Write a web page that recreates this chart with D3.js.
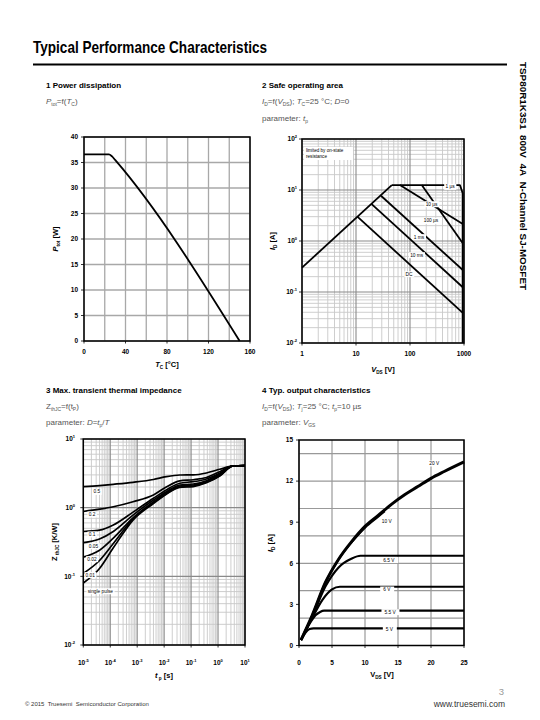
<!DOCTYPE html>
<html><head><meta charset="utf-8">
<script src="https://cdn.jsdelivr.net/npm/d3@7"></script>
<style>
body{margin:0;background:#fff;}
svg{display:block;}
text{font-family:"Liberation Sans",Arial,sans-serif;}
</style></head><body>
<svg id="page" width="540" height="720"></svg>
<script>
// ---------------- DATA ----------------
// 1 Power dissipation
const pdTemp  = [0, 24, 27, 30, 150];
const pdPower = [36.6, 36.6, 36.2, 35.5, 0];
const pdXLabels = [0, 40, 80, 120, 160];
const pdYLabels = [0, 5, 10, 15, 20, 25, 30, 35, 40];

// 2 Safe operating area
const soaRdsV   = [1, 46];          const soaRdsI   = [0.3, 12.5];
const soa1usV   = [46, 840, 950, 950]; const soa1usI = [12.5, 12.5, 8.6, 0.01];
const soa10usV  = [65, 950];        const soa10usI  = [12.5, 2.15];
const soa100usV = [165, 950];       const soa100usI = [12.5, 0.9];
const soa1msV   = [29, 950];        const soa1msI   = [7.7, 0.27];
const soa10msV  = [19.5, 950];      const soa10msI  = [5.3, 0.124];
const soaDcV    = [10.6, 950];      const soaDcI    = [3.0, 0.039];
const soaLabels = ["1 µs", "10 µs", "100 µs", "1 ms", "10 ms", "DC"];
const soaLabelV = [550, 251, 245, 147, 133, 96];
const soaLabelI = [11.6, 5.3, 2.5, 1.2, 0.53, 0.225];
const soaXLabels = ["1", "10", "100", "1000"];
const soaYExp = [2, 1, 0, -1, -2];

// 3 Transient thermal impedance
const zthT      = [1e-5, 4e-5, 1.3e-4, 7e-4, 4e-3, 1.2e-2, 3.8e-2, 0.12, 0.37, 1.15, 3.6, 10];
const zthD05    = [2.02, 2.1, 2.19, 2.34, 2.57, 2.83, 2.99, 3.0, 3.2, 3.62, 4.05, 4.1];
const zthD02    = [0.88, 0.95, 1.03, 1.22, 1.53, 2.0, 2.45, 2.55, 2.75, 3.34, 4.05, 4.1];
const zthD01    = [0.45, 0.47, 0.56, 0.86, 1.37, 1.81, 2.27, 2.39, 2.62, 3.17, 4.05, 4.1];
const zthD005   = [0.31, 0.35, 0.45, 0.78, 1.29, 1.71, 2.14, 2.21, 2.47, 3.09, 4.05, 4.1];
const zthD002   = [0.19, 0.24, 0.36, 0.71, 1.22, 1.65, 2.07, 2.14, 2.39, 2.99, 4.05, 4.1];
const zthD001   = [0.11, 0.17, 0.30, 0.69, 1.18, 1.6, 2.0, 2.07, 2.34, 2.92, 4.05, 4.1];
const zthSingle = [0.08, 0.13, 0.26, 0.66, 1.15, 1.57, 1.97, 2.03, 2.3, 2.88, 4.05, 4.1];
const zthLabels = ["0.5", "0.2", "0.1", "0.05", "0.02", "0.01", "single pulse"];
const zthLabelT = [3.2e-5, 2.1e-5, 2.1e-5, 2.4e-5, 2.1e-5, 1.8e-5, 4.3e-5];
const zthLabelZ = [1.71, 0.80, 0.41, 0.277, 0.179, 0.105, 0.061];
const zthXExp = [-5, -4, -3, -2, -1, 0, 1];
const zthYExp = [1, 0, -1, -2];

// 4 Output characteristics
const ocV20  = [0.3, 2, 4, 6, 8, 10, 12, 14, 16, 18, 20, 22, 25];
const ocI20  = [0.4, 2.2, 4.6, 6.3, 7.6, 8.7, 9.5, 10.3, 11.0, 11.6, 12.2, 12.7, 13.4];
const ocV10  = [0.3, 2, 4, 6, 8, 10, 12, 13];
const ocI10  = [0.4, 2.2, 4.6, 6.3, 7.55, 8.6, 9.4, 9.8];
const ocV65  = [0.3, 2, 4, 6, 8, 9.3, 25];
const ocI65  = [0.4, 2.1, 4.3, 5.7, 6.35, 6.55, 6.55];
const ocV6   = [0.3, 2, 3.5, 5, 6.2, 25];
const ocI6   = [0.4, 2.0, 3.3, 4.1, 4.29, 4.29];
const ocV55  = [0.3, 1.5, 2.5, 3.2, 3.8, 25];
const ocI55  = [0.4, 1.5, 2.2, 2.45, 2.54, 2.54];
const ocV5   = [0.3, 1, 1.6, 2.2, 25];
const ocI5   = [0.4, 0.95, 1.2, 1.25, 1.25];
const ocLabels = ["20 V", "10 V", "6.5 V", "6 V", "5.5 V", "5 V"];
const ocLabelV = [20.5, 13.3, 13.6, 13.3, 13.8, 13.7];
const ocLabelI = [13.3, 9.1, 6.25, 4.1, 2.45, 1.15];
const ocXLabels = [0, 5, 10, 15, 20, 25];
const ocYLabels = [0, 3, 6, 9, 12, 15];

// ---------------- HELPERS ----------------
const svg = d3.select("#page");
svg.append("rect").attr("width", 540).attr("height", 720).attr("fill", "#fff");

function rich(parent, x, y, parts, o = {}) {
  const size = o.size || 8;
  const t = parent.append("text").attr("x", x).attr("y", y)
    .attr("font-size", size).attr("font-weight", o.weight || "normal")
    .attr("fill", o.fill || "#000").attr("text-anchor", o.anchor || "start");
  if (o.family) t.attr("font-family", o.family);
  if (o.rotate) t.attr("transform", `rotate(${o.rotate},${x},${y})`);
  let shift = 0;
  parts.forEach(p => {
    const s = typeof p === "string" ? { t: p } : p;
    const ts = t.append("tspan").text(s.t);
    let target = 0, fs = size;
    if (s.sub) { target = size * 0.3; fs = size * 0.62; }
    if (s.sup) { target = -size * 0.45; fs = size * 0.62; }
    ts.attr("dy", target - shift).attr("font-size", fs);
    shift = target;
    if (s.it) ts.attr("font-style", "italic");
  });
  return t;
}

function frame(g, x, y) {
  const [x0, x1] = x.range(), [y0, y1] = y.range();
  g.append("rect").attr("x", x0).attr("y", y1).attr("width", x1 - x0).attr("height", y0 - y1)
    .attr("fill", "none").attr("stroke", "#000").attr("stroke-width", 1.5);
}
function vline(g, x, y, v, color, w) {
  g.append("line").attr("x1", x(v)).attr("x2", x(v)).attr("y1", y.range()[0]).attr("y2", y.range()[1])
    .attr("stroke", color).attr("stroke-width", w);
}
function hline(g, x, y, v, color, w) {
  g.append("line").attr("y1", y(v)).attr("y2", y(v)).attr("x1", x.range()[0]).attr("x2", x.range()[1])
    .attr("stroke", color).attr("stroke-width", w);
}
function logGrid(g, x, y, logX, logY) {
  const isPow = v => Math.abs(Math.log10(v) - Math.round(Math.log10(v))) < 1e-6;
  const xt = x.ticks(), yt = y.ticks();
  if (logX) xt.filter(v => !isPow(v)).forEach(v => vline(g, x, y, v, "#c8c8c8", 0.9));
  if (logY) yt.filter(v => !isPow(v)).forEach(v => hline(g, x, y, v, "#c8c8c8", 0.9));
  if (logX) xt.filter(isPow).forEach(v => vline(g, x, y, v, "#8a8a8a", 1.1));
  if (logY) yt.filter(isPow).forEach(v => hline(g, x, y, v, "#8a8a8a", 1.1));
}
function yTick(g, x, py) {
  const x0 = x.range()[0];
  g.append("line").attr("x1", x0 - 3).attr("x2", x0).attr("y1", py).attr("y2", py)
    .attr("stroke", "#000").attr("stroke-width", 0.8);
}
function xTick(g, y, px) {
  const y0 = y.range()[0];
  g.append("line").attr("x1", px).attr("x2", px).attr("y1", y0).attr("y2", y0 + 2.5)
    .attr("stroke", "#000").attr("stroke-width", 0.8);
}
function pow10Label(g, px, py, e, anchor) {
  rich(g, px, py, ["10", { t: String(e), sup: true }], { size: 6.5, weight: "bold", anchor: anchor });
}
function zip(a, b) { return a.map((v, i) => [v, b[i]]); }
function curve(g, x, y, xs, ys, w, interp) {
  const line = d3.line().x(d => x(d[0])).y(d => y(d[1])).curve(interp || d3.curveLinear);
  g.append("path").attr("d", line(zip(xs, ys))).attr("fill", "none")
    .attr("stroke", "#000").attr("stroke-width", w).attr("stroke-linejoin", "round");
}
function boxLabel(g, px, py, txt, size, pad) {
  const t = g.append("text").attr("x", px).attr("y", py + size * 0.35).attr("font-size", size)
    .attr("text-anchor", "middle").attr("fill", "#000").text(txt);
  const bb = t.node().getBBox();
  g.insert("rect", () => t.node()).attr("x", bb.x - pad).attr("y", bb.y - 0.5)
    .attr("width", bb.width + 2 * pad).attr("height", bb.height + 1).attr("fill", "#fff");
}

// ---------------- PAGE ----------------
svg.append("text").attr("x", 33).attr("y", 53).attr("font-family", "Lato, 'Open Sans', sans-serif")
  .attr("font-weight", 900).attr("font-size", 16.5).attr("textLength", 234)
  .attr("lengthAdjust", "spacingAndGlyphs").text("Typical Performance Characteristics");
svg.append("line").attr("x1", 33).attr("x2", 507).attr("y1", 64.5).attr("y2", 64.5)
  .attr("stroke", "#000").attr("stroke-width", 2);

svg.append("text").attr("x", 520).attr("y", 62).attr("transform", "rotate(90,520,62)")
  .attr("font-size", 9).attr("font-weight", "bold").attr("textLength", 228)
  .attr("lengthAdjust", "spacingAndGlyphs")
  .text("TSP80R1K3S1\u00A0\u00A0800V\u00A0\u00A04A\u00A0\u00A0N-Channel SJ-MOSFET");

svg.append("text").attr("x", 25).attr("y", 706).attr("font-size", 6).attr("fill", "#333")
  .attr("font-family", "Lato, sans-serif").text("© 2015\u00A0 Truesemi\u00A0 Semiconductor Corporation");
svg.append("text").attr("x", 505).attr("y", 707).attr("font-size", 8.5).attr("fill", "#333")
  .attr("text-anchor", "end").attr("font-family", "Lato, sans-serif").text("www.truesemi.com");
svg.append("text").attr("x", 504).attr("y", 695).attr("font-size", 9.5).attr("fill", "#999")
  .attr("text-anchor", "end").attr("font-family", "Lato, sans-serif").text("3");

const gray = "#555";

// ===== Chart 1 =====
{
  const g = svg.append("g");
  rich(g, 46, 88, ["1 Power dissipation"], { size: 8, weight: "bold" });
  rich(g, 46, 104, [{ t: "P", it: true }, { t: "tot", sub: true }, "=f(", { t: "T", it: true }, { t: "C", sub: true }, ")"], { size: 8, fill: gray });
  const x = d3.scaleLinear().domain([0, 160]).range([84, 250]);
  const y = d3.scaleLinear().domain([0, 40]).range([341, 137]);
  x.ticks(8).forEach(v => vline(g, x, y, v, "#a8a8a8", 1.3));
  y.ticks(8).forEach(v => hline(g, x, y, v, "#a8a8a8", 1.3));
  frame(g, x, y);
  curve(g, x, y, pdTemp, pdPower, 1.8, d3.curveMonotoneX);
  pdYLabels.forEach(v => { yTick(g, x, y(v)); rich(g, 78, y(v) + 2.3, [String(v)], { size: 6.5, weight: "bold", anchor: "end" }); });
  pdXLabels.forEach(v => { xTick(g, y, x(v)); rich(g, x(v), 354, [String(v)], { size: 6.5, weight: "bold", anchor: "middle" }); });
  rich(g, 58, 239, [{ t: "P", it: true }, { t: "tot", sub: true }, " [W]"], { size: 7.5, weight: "bold", anchor: "middle", rotate: -90 });
  rich(g, 167, 367, [{ t: "T", it: true }, { t: "C", sub: true }, " [°C]"], { size: 7.5, weight: "bold", anchor: "middle" });
}

// ===== Chart 2 =====
{
  const g = svg.append("g");
  rich(g, 262, 88, ["2 Safe operating area"], { size: 8, weight: "bold" });
  rich(g, 262, 104, [{ t: "I", it: true }, { t: "D", sub: true }, "=f(", { t: "V", it: true }, { t: "DS", sub: true }, "); ",
    { t: "T", it: true }, { t: "C", sub: true }, "=25 °C; ", { t: "D", it: true }, "=0"], { size: 8, fill: gray });
  rich(g, 262, 121, ["parameter: ", { t: "t", it: true }, { t: "p", sub: true }], { size: 8, fill: gray });
  const x = d3.scaleLog().domain([1, 1000]).range([302, 464]);
  const y = d3.scaleLog().domain([0.01, 100]).range([343, 139]);
  logGrid(g, x, y, true, true);
  const bx = x.range()[0] + 2, by = y.range()[1] + 8;
  g.append("rect").attr("x", bx).attr("y", by).attr("width", 49).attr("height", 13).attr("fill", "#fff");
  g.append("text").attr("x", bx + 2).attr("y", by + 5).attr("font-size", 4.6).text("limited by on-state");
  g.append("text").attr("x", bx + 2).attr("y", by + 11).attr("font-size", 4.6).text("resistance");
  frame(g, x, y);
  curve(g, x, y, soaRdsV, soaRdsI, 1.8);
  curve(g, x, y, soa1usV, soa1usI, 1.8);
  curve(g, x, y, soa10usV, soa10usI, 1.8);
  curve(g, x, y, soa100usV, soa100usI, 1.8);
  curve(g, x, y, soa1msV, soa1msI, 1.8);
  curve(g, x, y, soa10msV, soa10msI, 1.8);
  curve(g, x, y, soaDcV, soaDcI, 1.8);
  soaLabels.forEach((s, i) => boxLabel(g, x(soaLabelV[i]), y(soaLabelI[i]), s, 4.8, 1.2));
  soaYExp.forEach(e => { yTick(g, x, y(Math.pow(10, e))); pow10Label(g, 297, y(Math.pow(10, e)) + 2.3, e, "end"); });
  soaXLabels.forEach(s => { xTick(g, y, x(+s)); rich(g, x(+s), 356, [s], { size: 6.5, weight: "bold", anchor: "middle" }); });
  rich(g, 275, 241, [{ t: "I", it: true }, { t: "D", sub: true }, " [A]"], { size: 7.5, weight: "bold", anchor: "middle", rotate: -90 });
  rich(g, 383, 372, [{ t: "V", it: true }, { t: "DS", sub: true }, " [V]"], { size: 7.5, weight: "bold", anchor: "middle" });
}

// ===== Chart 3 =====
{
  const g = svg.append("g");
  rich(g, 46, 393, ["3 Max. transient thermal impedance"], { size: 8, weight: "bold" });
  rich(g, 46, 409, ["Z", { t: "thJC", sub: true }, "=f(t", { t: "P", sub: true }, ")"], { size: 8, fill: gray });
  rich(g, 46, 425, ["parameter: ", { t: "D", it: true }, "=", { t: "t", it: true }, { t: "p", sub: true }, "/", { t: "T", it: true }], { size: 8, fill: gray });
  const x = d3.scaleLog().domain([1e-5, 10]).range([83.3, 245]);
  const y = d3.scaleLog().domain([0.01, 10]).range([645, 439]);
  logGrid(g, x, y, true, true);
  frame(g, x, y);
  [zthD05, zthD02, zthD01, zthD005, zthD002, zthD001, zthSingle].forEach(arr =>
    curve(g, x, y, zthT, arr, 1.7, d3.curveMonotoneX));
  zthLabels.forEach((s, i) => boxLabel(g, x(zthLabelT[i]), y(zthLabelZ[i]), s, 4.8, 1.2));
  zthYExp.forEach(e => { yTick(g, x, y(Math.pow(10, e))); pow10Label(g, 75, y(Math.pow(10, e)) + 2.3, e, "end"); });
  zthXExp.forEach(e => { xTick(g, y, x(Math.pow(10, e))); pow10Label(g, x(Math.pow(10, e)), 665, e, "middle"); });
  rich(g, 57, 542, ["Z", { t: " thJC", sub: true }, " [K/W]"], { size: 7.5, weight: "bold", anchor: "middle", rotate: -90 });
  rich(g, 164, 678, [{ t: "t", it: true }, { t: " p", sub: true }, " [s]"], { size: 7.5, weight: "bold", anchor: "middle" });
}

// ===== Chart 4 =====
{
  const g = svg.append("g");
  rich(g, 262, 393, ["4 Typ. output characteristics"], { size: 8, weight: "bold" });
  rich(g, 262, 409, [{ t: "I", it: true }, { t: "D", sub: true }, "=f(", { t: "V", it: true }, { t: "DS", sub: true }, "); ",
    { t: "T", it: true }, { t: "j", sub: true }, "=25 °C; ", { t: "t", it: true }, { t: "p", sub: true }, "=10 µs"], { size: 8, fill: gray });
  rich(g, 262, 425, ["parameter: ", { t: "V", it: true }, { t: "GS", sub: true }], { size: 8, fill: gray });
  const x = d3.scaleLinear().domain([0, 25]).range([299, 464]);
  const y = d3.scaleLinear().domain([0, 15]).range([645.5, 440]);
  x.ticks(5).forEach(v => vline(g, x, y, v, "#999", 1.2));
  y.ticks(5).forEach(v => hline(g, x, y, v, "#999", 1.2));
  frame(g, x, y);
  curve(g, x, y, ocV20, ocI20, 3, d3.curveMonotoneX);
  curve(g, x, y, ocV10, ocI10, 2, d3.curveMonotoneX);
  curve(g, x, y, ocV65, ocI65, 2.2, d3.curveMonotoneX);
  curve(g, x, y, ocV6, ocI6, 2.2, d3.curveMonotoneX);
  curve(g, x, y, ocV55, ocI55, 2.2, d3.curveMonotoneX);
  curve(g, x, y, ocV5, ocI5, 2.2, d3.curveMonotoneX);
  ocLabels.forEach((s, i) => boxLabel(g, x(ocLabelV[i]), y(ocLabelI[i]), s, 4.8, 3));
  ocYLabels.forEach(v => { yTick(g, x, y(v)); rich(g, 293, y(v) + 2.3, [String(v)], { size: 6.5, weight: "bold", anchor: "end" }); });
  ocXLabels.forEach(v => { xTick(g, y, x(v)); rich(g, x(v), 665, [String(v)], { size: 6.5, weight: "bold", anchor: "middle" }); });
  rich(g, 273, 543, [{ t: "I", it: true }, { t: "D", sub: true }, " [A]"], { size: 7.5, weight: "bold", anchor: "middle", rotate: -90 });
  rich(g, 382, 677, ["V", { t: "DS", sub: true }, " [V]"], { size: 7.5, weight: "bold", anchor: "middle" });
}
</script>
</body></html>
